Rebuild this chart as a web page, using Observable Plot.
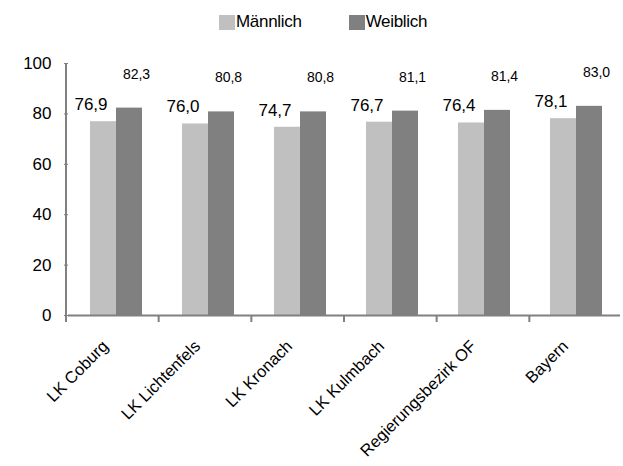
<!DOCTYPE html>
<html>
<head>
<meta charset="utf-8">
<script src="https://cdn.jsdelivr.net/npm/d3@7"></script>
<script src="https://cdn.jsdelivr.net/npm/@observablehq/plot@0.6"></script>
<style>
  body { margin: 0; background: #fff; font-family: "Liberation Sans", Arial, sans-serif; }
  #wrap { position: relative; width: 623px; height: 466px; }
  #legend { position: absolute; top: 12px; left: 219px; display: flex; align-items: center; font-size: 17px; color: #000; letter-spacing: -0.3px; }
  .sw { display: inline-block; width: 16px; height: 15px; margin-right: 1px; }
  .item { display: flex; align-items: center; }
  g[aria-label="labels-w"] text { letter-spacing: 2px; }
  g[aria-label="labels-m"] text { letter-spacing: 0.6px; }
  g[aria-label="xlabels"] text, g[aria-label="fx-axis tick label"] text { letter-spacing: 0.7px; }
  g[aria-label="ylabels"] text, g[aria-label="y-axis tick label"] text { letter-spacing: 0.8px; }
</style>
</head>
<body>
<div id="wrap">
  <div id="legend"></div>
  <div id="chart"></div>
</div>
<script>
const regions = ["LK Coburg", "LK Lichtenfels", "LK Kronach", "LK Kulmbach", "Regierungsbezirk OF", "Bayern"];
const maennlich = [76.9, 76.0, 74.7, 76.7, 76.4, 78.1];
const weiblich = [82.3, 80.8, 80.8, 81.1, 81.4, 83.0];
const series = ["Männlich", "Weiblich"];
const colors = ["#c0c0c0", "#808080"];
const yTicks = [0, 20, 40, 60, 80, 100];

const rows = [];
regions.forEach((r, i) => {
  rows.push({region: r, sex: series[0], value: maennlich[i]});
  rows.push({region: r, sex: series[1], value: weiblich[i]});
});
const fmt = v => v.toFixed(1).replace(".", ",");

const font = "'Liberation Sans', Arial, sans-serif";

const chart = Plot.plot({
  width: 623,
  height: 466,
  marginTop: 63,
  marginBottom: 151,
  marginLeft: 66,
  marginRight: 1,
  style: {fontFamily: font, background: "#fff", color: "#000"},
  fx: {domain: regions, padding: 0, label: null, axis: null},
  x: {domain: series, paddingInner: 0, paddingOuter: 0.722, align: 0.55, axis: null},
  y: {domain: [0, 100], axis: null, label: null},
  color: {domain: series, range: colors},
  marks: [
    Plot.barY(rows, {fx: "region", x: "sex", y: "value", fill: "sex"}),
    Plot.ruleY([0], {stroke: "#808080", strokeWidth: 2}),
    Plot.axisY({ticks: yTicks, tickSize: 4, tickPadding: 13, fontSize: 17, stroke: "#808080", tickFormat: d => String(d), label: null, ariaLabel: "ylabels"}),
    Plot.axisFx({anchor: "bottom", tickSize: 0, tickRotate: -45, textAnchor: "end", fontSize: 16.5, tickPadding: 28, dx: -9, label: null, ariaLabel: "xlabels"}),
    Plot.text(rows.filter(d => d.sex === series[0]), {fx: "region", x: "sex", y: "value", text: d => fmt(d.value), dy: -17, dx: -12.5, fontSize: 17, fill: "#000", ariaLabel: "labels-m"}),
    Plot.text(rows.filter(d => d.sex === series[1]), {fx: "region", x: "sex", y: "value", text: d => fmt(d.value), dy: -34, dx: 7, fontSize: 14, fill: "#000", ariaLabel: "labels-w"})
  ]
});

// axis lines and category-boundary ticks through the plot's own scales
const fxS = chart.scale("fx");
const yS = chart.scale("y");
const fxf = d3.scaleBand(fxS.domain, fxS.range).paddingInner(fxS.paddingInner ?? 0).paddingOuter(fxS.paddingOuter ?? 0).align(fxS.align ?? 0.5);
const yf = d3.scaleLinear(yS.domain, yS.range);
const svg = d3.select(chart);
const g = svg.append("g").attr("stroke", "#808080").attr("stroke-width", 2);
const x0 = fxf(regions[0]);
g.append("line").attr("x1", x0).attr("x2", x0).attr("y1", yf(100)).attr("y2", yf(0) + 7);
regions.slice(1).forEach(r => {
  const x = fxf(r);
  g.append("line").attr("x1", x).attr("x2", x).attr("y1", yf(0)).attr("y2", yf(0) + 7);
});

document.getElementById("chart").appendChild(chart);

const legend = document.getElementById("legend");
series.forEach((s, i) => {
  const item = document.createElement("span");
  item.className = "item";
  item.style.marginRight = i === 0 ? "47px" : "0";
  item.innerHTML = `<span class="sw" style="background:${colors[i]}"></span><span>${s}</span>`;
  legend.appendChild(item);
});
</script>
</body>
</html>
